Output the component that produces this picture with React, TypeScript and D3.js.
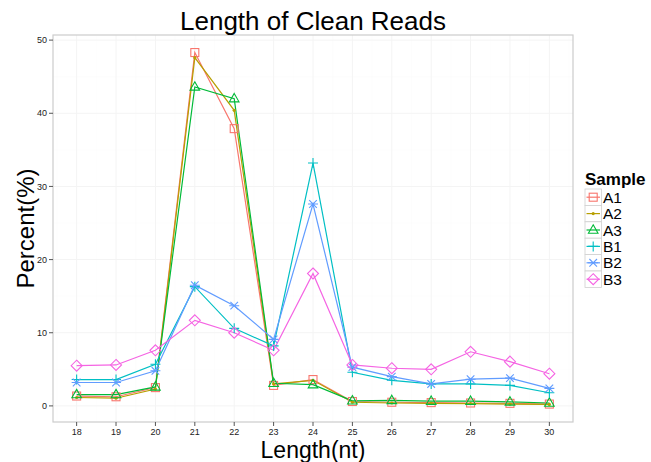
import React from "react";
import * as d3 from "d3";

const lengths = [18, 19, 20, 21, 22, 23, 24, 25, 26, 27, 28, 29, 30];
const sampleNames = ["A1", "A2", "A3", "B1", "B2", "B3"];
const sampleColors = ["#F8766D", "#B79F00", "#00BA38", "#00BFC4", "#619CFF", "#F564E3"];
const A1 = [1.35, 1.25, 2.5, 48.3, 37.9, 2.8, 3.6, 0.6, 0.5, 0.45, 0.4, 0.35, 0.25];
const A2 = [1.15, 1.05, 2.3, 47.6, 40.4, 3.0, 3.5, 0.5, 0.4, 0.35, 0.3, 0.25, 0.2];
const A3 = [1.55, 1.55, 2.6, 43.6, 42.0, 3.1, 2.9, 0.7, 0.75, 0.65, 0.65, 0.55, 0.4];
const B1 = [3.6, 3.6, 5.7, 16.3, 10.6, 8.2, 33.2, 4.6, 3.5, 3.0, 3.0, 2.8, 1.8];
const B2 = [3.2, 3.2, 4.8, 16.5, 13.7, 9.1, 27.6, 5.3, 4.0, 3.0, 3.65, 3.8, 2.4];
const B3 = [5.5, 5.6, 7.6, 11.7, 10.0, 7.6, 18.1, 5.6, 5.15, 5.0, 7.4, 6.05, 4.4];
const seriesValues = [A1, A2, A3, B1, B2, B3];
const yTicks = [0, 10, 20, 30, 40, 50];

const W = 651, H = 462;
const pl = 53, pr = 573, pt = 35, pb = 422;
const font = "Liberation Sans, Arial, sans-serif";

function Shape({ i, x, y, c }: { i: number; x: number; y: number; c: string }) {
  const sw = 1.1;
  if (i === 0) return <rect x={x - 4} y={y - 4} width={8} height={8} fill="none" stroke={c} strokeWidth={sw} />;
  if (i === 1) return <circle cx={x} cy={y} r={1.6} fill={c} />;
  if (i === 2) return <path d={`M${x},${y - 5.2}L${x + 4.8},${y + 3.2}L${x - 4.8},${y + 3.2}Z`} fill="none" stroke={c} strokeWidth={sw} />;
  if (i === 3) return <path d={`M${x - 5},${y}H${x + 5}M${x},${y - 5}V${y + 5}`} stroke={c} strokeWidth={sw} />;
  if (i === 4) return <path d={`M${x - 3.8},${y - 3.8}L${x + 3.8},${y + 3.8}M${x - 3.8},${y + 3.8}L${x + 3.8},${y - 3.8}M${x - 5},${y}H${x + 5}`} stroke={c} strokeWidth={sw} />;
  return <path d={`M${x},${y - 5.5}L${x + 5.5},${y}L${x},${y + 5.5}L${x - 5.5},${y}Z`} fill="none" stroke={c} strokeWidth={sw} />;
}

export default function App() {
  const x = d3.scaleLinear().domain([17.4, 30.6]).range([pl, pr]);
  const y = d3.scaleLinear().domain([-2.2, 50.7]).range([pb, pt]);
  const line = d3.line<number>().x((_, j) => x(lengths[j])).y((v) => y(v));
  const minorX = d3.range(17.5, 31, 1);
  const minorY = [5, 15, 25, 35, 45];
  return (
    <svg width={W} height={H} style={{ position: "absolute", left: 0, top: 0 }} fontFamily={font}>
      <rect width={W} height={H} fill="#fff" />
      <rect x={pl} y={pt} width={pr - pl} height={pb - pt} fill="#fff" />
      {minorX.map((v) => <line key={"mx" + v} x1={x(v)} x2={x(v)} y1={pt} y2={pb} stroke="#FBFBFB" strokeWidth={0.5} />)}
      {minorY.map((v) => <line key={"my" + v} y1={y(v)} y2={y(v)} x1={pl} x2={pr} stroke="#FBFBFB" strokeWidth={0.5} />)}
      {lengths.map((v) => <line key={"gx" + v} x1={x(v)} x2={x(v)} y1={pt} y2={pb} stroke="#F4F4F4" strokeWidth={1} />)}
      {yTicks.map((v) => <line key={"gy" + v} y1={y(v)} y2={y(v)} x1={pl} x2={pr} stroke="#F4F4F4" strokeWidth={1} />)}
      {seriesValues.map((s, i) => (
        <path key={"l" + i} d={line(s) || ""} fill="none" stroke={sampleColors[i]} strokeWidth={1.2} />
      ))}
      {seriesValues.map((s, i) => s.map((v, j) => <Shape key={"p" + i + "-" + j} i={i} x={x(lengths[j])} y={y(v)} c={sampleColors[i]} />))}
      <rect x={pl} y={pt} width={pr - pl} height={pb - pt} fill="none" stroke="#CCCCCC" strokeWidth={1.2} />
      {yTicks.map((v) => (
        <g key={"yt" + v}>
          <line x1={pl - 4} x2={pl} y1={y(v)} y2={y(v)} stroke="#555" strokeWidth={1} />
          <text x={pl - 6} y={y(v)} dy="0.35em" textAnchor="end" fontSize={9} fill="#222">{v}</text>
        </g>
      ))}
      {lengths.map((v) => (
        <g key={"xt" + v}>
          <line x1={x(v)} x2={x(v)} y1={pb} y2={pb + 4} stroke="#555" strokeWidth={1} />
          <text x={x(v)} y={pb + 13} textAnchor="middle" fontSize={9} fill="#222">{v}</text>
        </g>
      ))}
      <text x={(pl + pr) / 2} y={30} textAnchor="middle" fontSize={26} fill="#000">Length of Clean Reads</text>
      <text x={(pl + pr) / 2} y={458} textAnchor="middle" fontSize={23} fill="#000">Length(nt)</text>
      <text transform={`translate(34,${(pt + pb) / 2}) rotate(-90)`} textAnchor="middle" fontSize={24} fill="#000">Percent(%)</text>
      <text x={585} y={185} fontSize={17} fontWeight="bold" fill="#000">Sample</text>
      {sampleNames.map((n, i) => {
        const ky = 189 + i * 16.4;
        return (
          <g key={"lg" + n}>
            <rect x={585} y={ky} width={16.4} height={16.4} fill="#FFFFFF" stroke="#D0D0D0" strokeWidth={0.8} />
            <line x1={586.5} x2={600} y1={ky + 8.2} y2={ky + 8.2} stroke={sampleColors[i]} strokeWidth={1.2} />
            <Shape i={i} x={593.2} y={ky + 8.2} c={sampleColors[i]} />
            <text x={603} y={ky + 8.2} dy="0.36em" fontSize={15.5} fill="#000">{n}</text>
          </g>
        );
      })}
    </svg>
  );
}
